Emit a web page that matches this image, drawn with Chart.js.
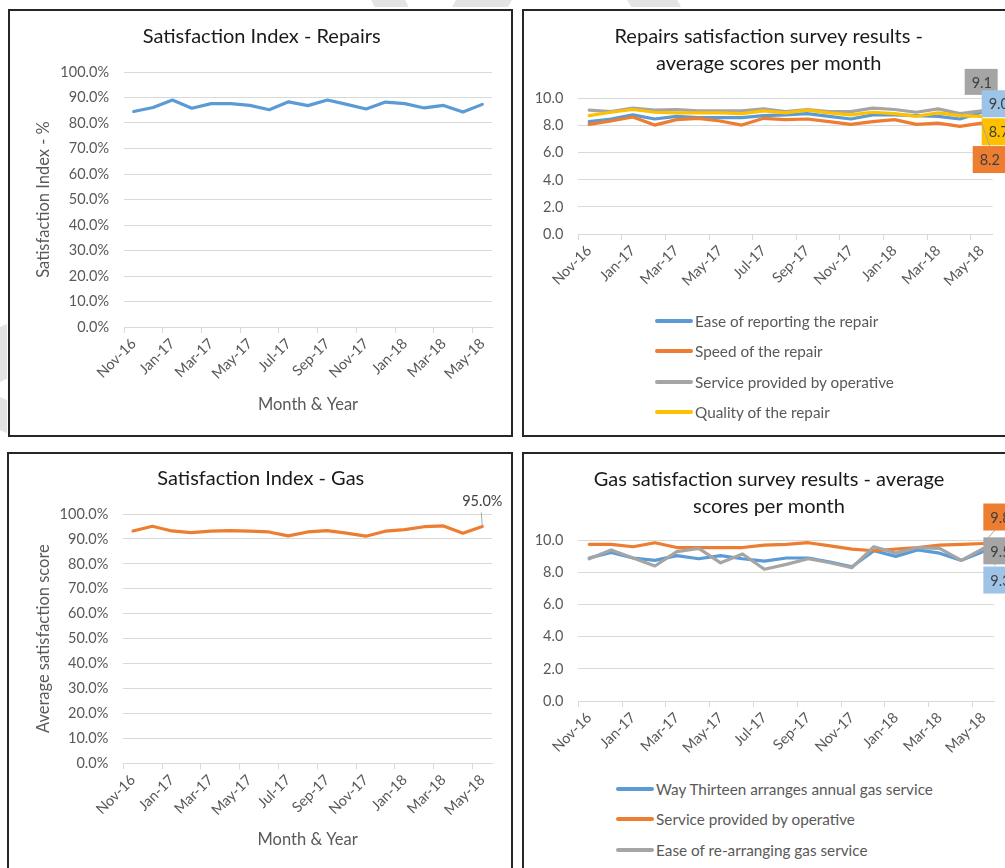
<!DOCTYPE html>
<html>
<head>
<meta charset="utf-8">
<script src="https://cdn.jsdelivr.net/npm/chart.js@4.4.0/dist/chart.umd.min.js"></script>
<style>
  html, body { margin: 0; padding: 0; background: #fff; }
  body { position: relative; width: 1005px; height: 868px; overflow: hidden; font-family: Lato, sans-serif; }
  .mark { position: absolute; background: #e4e4e4; }
  .panel { position: absolute; box-sizing: border-box; border: 2px solid #262626; background: #fff; overflow: hidden; }
  .panel canvas { position: absolute; left: 0; top: 0; }
  .legend { position: absolute; left: 0; width: 501px; text-align: center; }
  .legend ul { display: inline-block; list-style: none; margin: 0; padding: 0; text-align: left; }
  .legend li { height: 30.3px; display: flex; align-items: center; color: #595959; font-size: 15.3px; white-space: nowrap; }
  .legend .swatch { display: inline-block; width: 38px; height: 4px; margin-right: 2px; border-radius: 2px; }
</style>
</head>
<body>

<!-- faint watermark pieces behind the panels -->
<div class="mark" style="left:372px; top:-4px; width:34px; height:11px; transform:skewX(25deg);"></div>
<div class="mark" style="left:455px; top:-4px; width:56px; height:11px; transform:skewX(-30deg);"></div>
<div class="mark" style="left:628px; top:-4px; width:50px; height:11px; transform:skewX(30deg);"></div>
<div class="mark" style="left:-3px; top:326px; width:10px; height:55px; transform:skewY(-25deg);"></div>
<div class="mark" style="left:-3px; top:398px; width:10px; height:33px; transform:skewY(25deg);"></div>

<div class="panel" style="left:8px; top:9px; width:505px; height:428px;">
  <canvas id="repairsIndex" width="501" height="424"></canvas>
</div>
<div class="panel" style="left:522px; top:9px; width:505px; height:428px;">
  <canvas id="repairsSurvey" width="501" height="300"></canvas>
  <div class="legend" id="repairsLegend" style="top:295px;"></div>
</div>
<div class="panel" style="left:7px; top:452px; width:506px; height:430px;">
  <canvas id="gasIndex" width="502" height="420"></canvas>
</div>
<div class="panel" style="left:522px; top:452px; width:505px; height:430px;">
  <canvas id="gasSurvey" width="501" height="320"></canvas>
  <div class="legend" id="gasLegend" style="top:320px;"></div>
</div>

<script>
// months on the x axis
const months = ['Nov-16', 'Dec-16', 'Jan-17', 'Feb-17', 'Mar-17', 'Apr-17', 'May-17', 'Jun-17', 'Jul-17', 'Aug-17',
    'Sep-17', 'Oct-17', 'Nov-17', 'Dec-17', 'Jan-18', 'Feb-18', 'Mar-18', 'Apr-18', 'May-18'];

// Satisfaction Index - Repairs (%)
const repairsIndex = [84.5, 86.1, 89.0, 85.8, 87.6, 87.6, 86.9, 85.2, 88.3, 86.8, 89.0, 87.3, 85.5, 88.2, 87.6, 85.9, 86.9, 84.3, 87.3];

// Repairs survey - average scores
const easeReporting = [8.3, 8.5, 8.8, 8.5, 8.7, 8.6, 8.6, 8.6, 8.75, 8.8, 8.9, 8.7, 8.5, 8.8, 8.8, 8.75, 8.7, 8.5, 9.0];
const speedRepair = [8.1, 8.35, 8.65, 8.05, 8.45, 8.55, 8.35, 8.05, 8.55, 8.45, 8.5, 8.3, 8.1, 8.3, 8.45, 8.1, 8.2, 7.95, 8.2];
const serviceOperative = [9.15, 9.05, 9.3, 9.15, 9.2, 9.1, 9.1, 9.1, 9.25, 9.05, 9.2, 9.05, 9.05, 9.3, 9.2, 9.0, 9.25, 8.9, 9.1];
const qualityRepair = [8.75, 9.0, 9.2, 9.0, 8.95, 8.95, 8.95, 8.9, 9.1, 8.95, 9.15, 8.95, 8.8, 9.0, 8.9, 8.7, 8.95, 8.75, 8.7];

// Satisfaction Index - Gas (%)
const gasIndex = [93.2, 95.1, 93.2, 92.5, 93.1, 93.3, 93.1, 92.8, 91.2, 92.8, 93.3, 92.3, 91.1, 93.1, 93.7, 94.9, 95.2, 92.3, 95.0];

// Gas survey - average scores
const gasArranges = [8.9, 9.25, 8.9, 8.75, 9.05, 8.85, 9.05, 8.85, 8.7, 8.9, 8.9, 8.65, 8.35, 9.35, 9.0, 9.4, 9.2, 8.75, 9.3];
const gasOperative = [9.75, 9.75, 9.6, 9.85, 9.55, 9.55, 9.55, 9.55, 9.7, 9.75, 9.85, 9.65, 9.45, 9.35, 9.45, 9.55, 9.7, 9.75, 9.8];
const gasRearranging = [8.85, 9.4, 8.9, 8.4, 9.3, 9.5, 8.6, 9.15, 8.2, 8.5, 8.85, 8.6, 8.3, 9.6, 9.2, 9.55, 9.5, 8.75, 9.5];

const BLUE = '#5b9bd5', ORANGE = '#ed7d31', GRAY = '#a5a5a5', YELLOW = '#ffc000', LIGHTBLUE = '#9dc3e6';
const FONT = 'Lato, "Liberation Sans", sans-serif';
const tickFont = { family: FONT, size: 14.5 };
const axisTitleFont = { family: FONT, size: 16.5 };

// excel style data labels next to the last point of a series
function endLabels(items, format) {
    return {
        id: 'endLabels',
        afterDatasetsDraw(chart) {
            const ctx = chart.ctx;
            ctx.save();
            ctx.font = '14.5px ' + FONT;
            items.forEach(item => {
                const meta = chart.getDatasetMeta(item.dataset);
                const data = chart.data.datasets[item.dataset].data;
                const pt = meta.data[data.length - 1];
                const text = format(data[data.length - 1]);
                const tw = ctx.measureText(text).width;
                const bx = pt.x + item.dx, by = pt.y + item.dy;
                if (item.leader) {
                    ctx.strokeStyle = '#a6a6a6';
                    ctx.lineWidth = 1;
                    ctx.beginPath();
                    ctx.moveTo(pt.x + item.leader[0], pt.y + item.leader[1]);
                    ctx.lineTo(pt.x, pt.y);
                    ctx.stroke();
                }
                ctx.fillStyle = '#404040';
                ctx.textAlign = 'left';
                ctx.textBaseline = 'middle';
                if (item.box) {
                    ctx.fillStyle = item.box;
                    ctx.fillRect(bx, by, item.w, item.h);
                    ctx.fillStyle = '#404040';
                    ctx.fillText(text, bx + 7, by + item.h / 2 + 1);
                } else {
                    ctx.fillText(text, bx - tw / 2, by);
                }
            });
            ctx.restore();
        }
    };
}

function xScale(height, withTitle, titlePad) {
    return {
        offset: true,
        grid: {
            offset: true,
            drawOnChartArea: false,
            drawTicks: true,
            tickLength: 6,
            color: c => (c.index !== undefined && c.index % 2 === 0) ? '#d9d9d9' : 'rgba(0,0,0,0)'
        },
        border: { display: true, color: '#d9d9d9' },
        ticks: {
            autoSkip: false,
            minRotation: 45,
            maxRotation: 45,
            padding: 2,
            color: '#595959',
            font: tickFont,
            callback: function (v, i) { return i % 2 === 0 ? this.getLabelForValue(v) : ''; }
        },
        title: {
            display: withTitle,
            text: 'Month & Year',
            color: '#595959',
            font: axisTitleFont,
            padding: { top: 0, bottom: titlePad }
        },
        afterFit: s => { s.height = height; }
    };
}

function yScale(max, step, width, fmt, titleText, titlePad) {
    return {
        min: 0,
        max: max,
        ticks: { stepSize: step, padding: 15, color: '#595959', font: tickFont, callback: fmt },
        grid: { color: '#d9d9d9', drawTicks: false },
        border: { display: false },
        title: {
            display: !!titleText,
            text: titleText || '',
            color: '#595959',
            font: axisTitleFont,
            padding: { top: titlePad || 0, bottom: 0 }
        },
        afterFit: s => { s.width = width; }
    };
}

// empty right hand axis, only keeps space between plot and chart edge
function spacer(width) {
    return {
        position: 'right',
        grid: { display: false },
        border: { display: false },
        ticks: { display: false },
        afterFit: s => { s.width = width; }
    };
}

function line(label, data, color, order) {
    return {
        label: label,
        data: data,
        borderColor: color,
        backgroundColor: color,
        borderWidth: 3.2,
        pointRadius: 0,
        tension: 0,
        borderJoinStyle: 'round',
        borderCapStyle: 'round',
        order: order || 0
    };
}

function titleOpts(text, top, bottom) {
    return {
        display: true,
        text: text,
        color: '#1a1a1a',
        font: { family: FONT, size: 20, weight: 'normal', lineHeight: 1.35 },
        padding: { top: top, bottom: bottom }
    };
}

function buildLegend(chart, id) {
    const el = document.getElementById(id);
    const ul = document.createElement('ul');
    chart.data.datasets.forEach(ds => {
        const li = document.createElement('li');
        const sw = document.createElement('span');
        sw.className = 'swatch';
        sw.style.background = ds.borderColor;
        li.appendChild(sw);
        li.appendChild(document.createTextNode(ds.label));
        ul.appendChild(li);
    });
    el.appendChild(ul);
}

Chart.defaults.font.family = FONT;
Chart.defaults.animation = false;
Chart.defaults.responsive = false;
Chart.defaults.devicePixelRatio = 1;

const pct = v => v.toFixed(1) + '%';
const one = v => v.toFixed(1);

// Satisfaction Index - Repairs
new Chart(document.getElementById('repairsIndex'), {
    type: 'line',
    data: { labels: months, datasets: [line('Satisfaction Index', repairsIndex, BLUE)] },
    options: {
        layout: { padding: { left: 21.4, right: 19, top: 0, bottom: 0 } },
        plugins: {
            legend: { display: false },
            tooltip: { enabled: false },
            title: titleOpts('Satisfaction Index - Repairs', 12.5, 21.5)
        },
        scales: {
            x: xScale(108, true, 20),
            y: yScale(100, 10, 92.6, pct, 'Satisfaction Index - %', 2.4)
        }
    }
});

// Repairs satisfaction survey results
const repairsSurvey = new Chart(document.getElementById('repairsSurvey'), {
    type: 'line',
    data: {
        labels: months,
        datasets: [
            line('Ease of reporting the repair', easeReporting, BLUE, 4),
            line('Speed of the repair', speedRepair, ORANGE, 3),
            line('Service provided by operative', serviceOperative, GRAY, 2),
            line('Quality of the repair', qualityRepair, YELLOW, 1)
        ]
    },
    options: {
        layout: { padding: { left: 10, right: 21.6, top: 0, bottom: 0 } },
        plugins: {
            legend: { display: false },
            tooltip: { enabled: false },
            title: titleOpts(['Repairs satisfaction survey results -', 'average scores per month'], 12.5, 21.2)
        },
        scales: {
            x: xScale(77, false, 0),
            y: yScale(10, 2, 44.3, one),
            pad: spacer(10.8)
        }
    },
    plugins: [endLabels([
        { dataset: 2, dx: -17, dy: -42, w: 33, h: 26, box: GRAY },
        { dataset: 0, dx: 0, dy: -22, w: 34, h: 27, box: LIGHTBLUE },
        { dataset: 3, dx: 0, dy: 2, w: 34, h: 27, box: YELLOW },
        { dataset: 1, dx: -9, dy: 23, w: 34, h: 27, box: ORANGE, leader: [8, 23] }
    ], one)]
});
buildLegend(repairsSurvey, 'repairsLegend');

// Satisfaction Index - Gas
new Chart(document.getElementById('gasIndex'), {
    type: 'line',
    data: { labels: months, datasets: [line('Satisfaction Index', gasIndex, ORANGE)] },
    options: {
        layout: { padding: { left: 20.6, right: 19, top: 0, bottom: 0 } },
        plugins: {
            legend: { display: false },
            tooltip: { enabled: false },
            title: titleOpts('Satisfaction Index - Gas', 11.5, 21.5)
        },
        scales: {
            x: xScale(110.7, true, 24),
            y: yScale(100, 10, 93.7, pct, 'Average satisfaction score', 4.4)
        }
    },
    plugins: [endLabels([{ dataset: 0, dx: 0, dy: -25, leader: [-1, -14] }], pct)]
});

// Gas satisfaction survey results
const gasSurvey = new Chart(document.getElementById('gasSurvey'), {
    type: 'line',
    data: {
        labels: months,
        datasets: [
            line('Way Thirteen arranges annual gas service', gasArranges, BLUE, 3),
            line('Service provided by operative', gasOperative, ORANGE, 2),
            line('Ease of re-arranging gas service', gasRearranging, GRAY, 1)
        ]
    },
    options: {
        layout: { padding: { left: 10, right: 21, top: 0, bottom: 0 } },
        plugins: {
            legend: { display: false },
            tooltip: { enabled: false },
            title: titleOpts(['Gas satisfaction survey results - average', 'scores per month'], 12.5, 19.8)
        },
        scales: {
            x: xScale(73, false, 0),
            y: yScale(10, 2, 44.3, one),
            pad: spacer(9.7)
        }
    },
    plugins: [endLabels([
        { dataset: 1, dx: 0, dy: -40, w: 34, h: 27, box: ORANGE, leader: [12, -14] },
        { dataset: 0, dx: 0, dy: 15, w: 34, h: 27, box: LIGHTBLUE, leader: [12, 14] },
        { dataset: 2, dx: 0, dy: -11, w: 34, h: 27, box: GRAY }
    ], one)]
});
buildLegend(gasSurvey, 'gasLegend');
</script>
</body>
</html>
